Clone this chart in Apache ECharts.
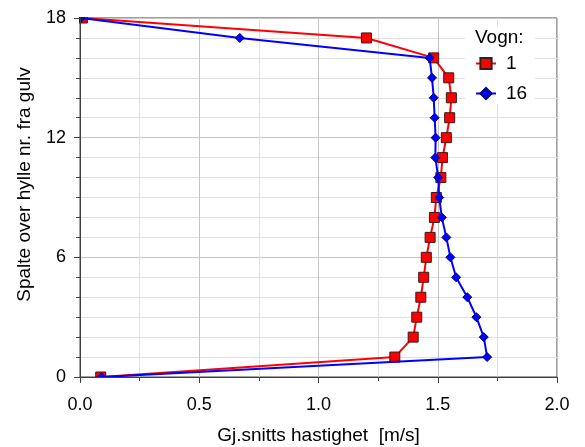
<!DOCTYPE html>
<html>
<head>
<meta charset="utf-8">
<script src="https://cdn.jsdelivr.net/npm/echarts@6/dist/echarts.min.js"></script>
<style>
html,body{margin:0;padding:0;background:#fff;}
#chart{width:585px;height:447px;}
</style>
</head>
<body>
<div id="chart"></div>
<script>
const shelfLevels = [0,1,2,3,4,5,6,7,8,9,10,11,12,13,14,15,16,17,18];
const vogn1Speed = [0.087,1.32,1.397,1.412,1.429,1.441,1.452,1.468,1.486,1.494,1.513,1.52,1.536,1.55,1.557,1.546,1.483,1.201,0.01];
const vogn16Speed = [0.09,1.707,1.693,1.662,1.624,1.577,1.553,1.536,1.517,1.506,1.502,1.49,1.491,1.487,1.483,1.476,1.466,0.67,0.003];
const seriesNames = ['1','16'];
const xTicks = [0,0.5,1.0,1.5,2.0];
const yTicks = [0,6,12,18];

const font = 'Arial, "Liberation Sans", sans-serif';
const chart = echarts.init(document.getElementById('chart'), null, {renderer:'canvas'});

function pairs(xs){ return xs.map((x,i)=>[x, shelfLevels[i]]); }

const gridAxisX = {
  type:'value', min:xTicks[0], max:xTicks[xTicks.length-1], interval:0.5, z:0,
  axisLine:{show:false}, axisTick:{show:false}, axisLabel:{show:false},
  minorTick:{show:false, splitNumber:2},
  splitLine:{show:true,lineStyle:{color:'#c4c4c4',width:1}},
  minorSplitLine:{show:true,lineStyle:{color:'#e0e0e0',width:1}}
};
const gridAxisY = {
  type:'value', min:yTicks[0], max:yTicks[yTicks.length-1], interval:6, z:0,
  axisLine:{show:false}, axisTick:{show:false}, axisLabel:{show:false},
  minorTick:{show:false, splitNumber:6},
  splitLine:{show:true,lineStyle:{color:'#c4c4c4',width:1}},
  minorSplitLine:{show:true,lineStyle:{color:'#e0e0e0',width:1}}
};

chart.setOption({
  animation:false,
  backgroundColor:'#fff',
  grid:{left:80,right:28,top:18,bottom:70,show:true,borderColor:'#404040',borderWidth:1,backgroundColor:'transparent',
        containLabel:false, outerBoundsMode:'none'},
  xAxis:[gridAxisX, {
    type:'value', position:'bottom', min:xTicks[0], max:xTicks[xTicks.length-1], interval:0.5, z:10,
    name:'Gj.snitts hastighet  [m/s]', nameLocation:'middle', nameGap:49,
    nameTextStyle:{color:'#000',fontSize:19,fontFamily:font},
    axisLine:{show:true,onZero:false,lineStyle:{color:'#404040',width:1}},
    axisTick:{show:true,length:6,lineStyle:{color:'#404040'}},
    minorTick:{show:true,splitNumber:2,length:4,lineStyle:{color:'#404040'}},
    axisLabel:{color:'#000',fontSize:18,fontFamily:font,margin:19,formatter:v=>v.toFixed(1)},
    splitLine:{show:false}, minorSplitLine:{show:false}
  }],
  yAxis:[gridAxisY, {
    type:'value', position:'left', min:yTicks[0], max:yTicks[yTicks.length-1], interval:6, z:10,
    name:'Spalte over hylle nr. fra gulv', nameLocation:'middle', nameGap:46,
    nameTextStyle:{color:'#000',fontSize:19,fontFamily:font,padding:[0,0,0,26]},
    axisLine:{show:true,onZero:false,lineStyle:{color:'#404040',width:1}},
    axisTick:{show:true,length:6,lineStyle:{color:'#404040'}},
    minorTick:{show:true,splitNumber:6,length:4,lineStyle:{color:'#404040'}},
    axisLabel:{color:'#000',fontSize:18,fontFamily:font,margin:14},
    splitLine:{show:false}, minorSplitLine:{show:false}
  }],
  graphic:[
    {type:'rect',left:0,top:0,shape:{width:585,height:17},style:{fill:'#fff'},z:4,silent:true},
    {type:'rect',left:0,top:378,shape:{width:585,height:69},style:{fill:'#fff'},z:4,silent:true},
    {type:'rect',left:0,top:0,shape:{width:79,height:447},style:{fill:'#fff'},z:4,silent:true},
    {type:'rect',left:465,top:26,shape:{width:70,height:78},style:{fill:'#fff'},z:50},
    {type:'text',left:475,top:28,style:{text:'Vogn:',fill:'#000',font:'19px '+font},z:51}
  ],
  legend:{
    data:seriesNames, orient:'vertical', left:475, top:54, itemGap:11, padding:0,
    itemWidth:20, itemHeight:14, z:60,
    textStyle:{color:'#000',fontSize:19,fontFamily:font,padding:[0,0,0,5]}
  },
  series:[
    {name:seriesNames[0], type:'line', xAxisIndex:0, yAxisIndex:0, data:pairs(vogn1Speed), symbol:'rect', symbolSize:10,
     lineStyle:{color:'#ff0000',width:2}, itemStyle:{color:'#ff0000',borderColor:'#3a1a1a',borderWidth:1}, z:2},
    {name:seriesNames[1], type:'line', xAxisIndex:0, yAxisIndex:0, data:pairs(vogn16Speed), symbol:'diamond', symbolSize:9,
     lineStyle:{color:'#0000ff',width:2}, itemStyle:{color:'#0000ff',borderColor:'#000080',borderWidth:1}, z:3}
  ]
});
</script>
</body>
</html>
